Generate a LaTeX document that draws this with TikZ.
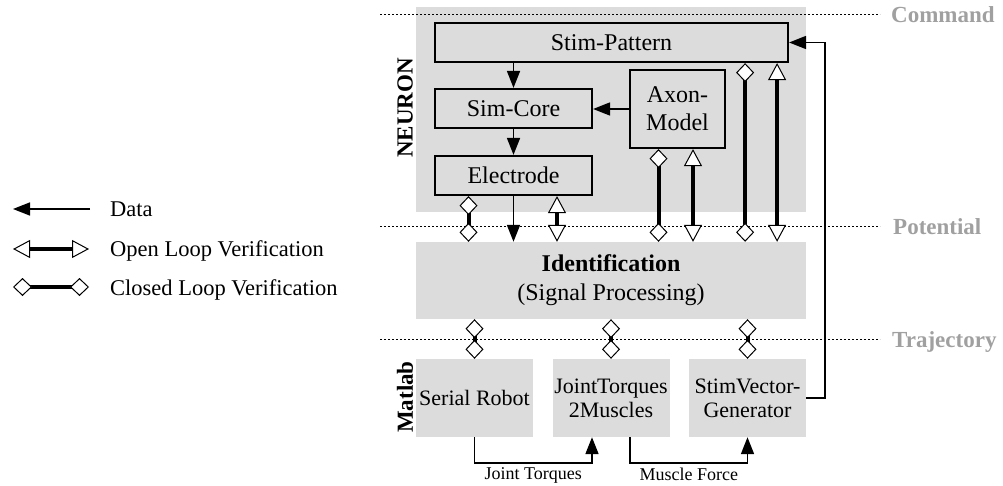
\documentclass[tikz,border=0pt]{standalone}
\usepackage{fontspec}
\setmainfont{Liberation Serif}
\usepackage{tikz}
\usepackage{xcolor}
\usetikzlibrary{positioning, arrows.meta}
\definecolor{bggray}{RGB}{220,220,220}
\definecolor{labgray}{RGB}{160,160,160}

\begin{document}
\begin{tikzpicture}[x=1pt, y=-1pt,
    blk/.style={draw=black, line width=2.2pt, inner sep=0pt, align=center, font=\fontsize{24}{28}\selectfont},
    region/.style={fill=bggray, inner sep=0pt, align=center},
    matbox/.style={region, minimum width=117pt, minimum height=78pt, font=\fontsize{22}{24}\selectfont},
    side/.style={rotate=90, inner sep=0pt, font=\bfseries\fontsize{23}{23}\selectfont},
    level/.style={line width=1pt, dash pattern=on 2pt off 2pt},
    levellabel/.style={anchor=base west, inner sep=0pt, text=labgray, font=\bfseries\fontsize{23}{23}\selectfont},
    legtext/.style={anchor=base west, inner sep=0pt, font=\fontsize{22.5}{24}\selectfont},
    data/.style={line width=1.7pt, -{Triangle[length=17pt, width=13pt]}},
    openloop/.style={line width=4pt, {Triangle[length=17pt, width=18pt, line width=1pt, fill=white]}-{Triangle[length=17pt, width=18pt, line width=1pt, fill=white]}},
    closedloop/.style={line width=4pt, {Diamond[length=19pt, width=18pt, line width=1pt, fill=white]}-{Diamond[length=19pt, width=18pt, line width=1pt, fill=white]}},
]
\useasboundingbox (0,0) rectangle (1003,486);

\node[region, minimum width=390pt, minimum height=205pt] (neuron) at (611,109.5) {};
\node[region, minimum width=390pt, minimum height=77pt, font=\fontsize{24}{29}\selectfont] (ident) at (611,280.5) {\textbf{Identification}\\(Signal Processing)};
\node[matbox] (robot) at (474.5,398) {Serial Robot};
\node[matbox] (jt) at (611,398) {JointTorques\\2Muscles};
\node[matbox] (stimvec) at (747.5,398) {StimVector-\\Generator};

\node[side] (neuronlabel) at (405,108) {NEURON};
\node[side] (matlablabel) at (405,397) {Matlab};

\coordinate (commandL) at (380,15);
\coordinate (commandR) at (880,15);
\coordinate (potentialL) at (380,227);
\coordinate (potentialR) at (880,227);
\coordinate (trajectoryL) at (380,339);
\coordinate (trajectoryR) at (880,339);
\draw[level] (commandL) -- (commandR);
\draw[level] (potentialL) -- (potentialR);
\draw[level] (trajectoryL) -- (trajectoryR);
\node[levellabel] (command) at (891,23) {Command};
\node[levellabel] (potential) at (893,235) {Potential};
\node[levellabel] (trajectory) at (892,347) {Trajectory};

\node[blk, minimum width=353pt, minimum height=39pt] (pattern) at (611.5,42.5) {Stim-Pattern};
\node[blk, minimum width=157pt, minimum height=39pt] (simcore) at (513.5,108.5) {Sim-Core};
\node[blk, minimum width=157pt, minimum height=39pt] (electrode) at (513.5,175.5) {Electrode};
\node[blk, minimum width=95pt, minimum height=78pt] (axon) at (677.5,109) {Axon-\\Model};

\draw[data] (pattern.south -| simcore.north) -- (simcore.north);
\draw[data] (simcore) -- (electrode);
\draw[data] (axon.west) -- (axon.west -| simcore.east);
\draw[data] (electrode.south) -- (electrode.south |- ident.north);
\draw[closedloop] ([xshift=-45pt]electrode.south) -- ([xshift=-45pt]electrode.south |- ident.north);
\draw[openloop] ([xshift=43.5pt]electrode.south) -- ([xshift=43.5pt]electrode.south |- ident.north);
\draw[closedloop] ([xshift=-19pt]axon.south) -- ([xshift=-19pt]axon.south |- ident.north);
\draw[openloop] ([xshift=15.5pt]axon.south) -- ([xshift=15.5pt]axon.south |- ident.north);
\draw[closedloop] ([xshift=-44pt]pattern.south east) -- ([xshift=-44pt]pattern.south east |- ident.north);
\draw[openloop] ([xshift=-12pt]pattern.south east) -- ([xshift=-12pt]pattern.south east |- ident.north);

\draw[closedloop] (ident.south -| robot.north) -- (robot.north);
\draw[closedloop] (ident.south -| jt.north) -- (jt.north);
\draw[closedloop] (ident.south -| stimvec.north) -- (stimvec.north);

\draw[data] (robot.south) -- ++(0,26) -| node[pos=0.25, below=4pt, inner sep=0pt, font=\fontsize{18}{18}\selectfont] (torques) {Joint Torques} ([xshift=-19pt]jt.south);
\draw[data] ([xshift=19pt]jt.south) -- ++(0,26) -| node[pos=0.25, below=4pt, inner sep=0pt, font=\fontsize{18}{18}\selectfont] (force) {Muscle Force} (stimvec.south);
\draw[data] (stimvec.east) -- ++(19,0) |- (pattern.east);

\coordinate (dataR) at (90,209);
\coordinate (dataL) at (13,209);
\coordinate (openL) at (13,249);
\coordinate (openR) at (89,249);
\coordinate (closedL) at (13,287);
\coordinate (closedR) at (89,287);
\draw[data] (dataR) -- (dataL);
\draw[openloop] (openL) -- (openR);
\draw[closedloop] (closedL) -- (closedR);
\node[legtext] (datatext) at (110,216.5) {Data};
\node[legtext] (opentext) at (110,257) {Open Loop Verification};
\node[legtext] (closedtext) at (110,295) {Closed Loop Verification};
\end{tikzpicture}
\end{document}
